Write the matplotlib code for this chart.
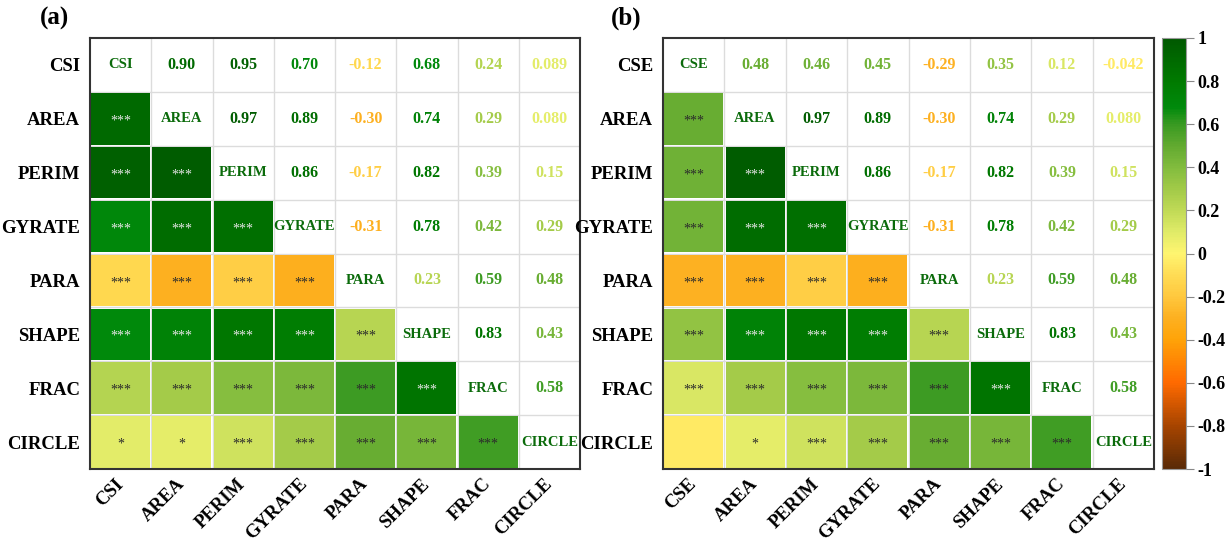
import numpy as np
import matplotlib
matplotlib.use("Agg")
import matplotlib.pyplot as plt
from matplotlib.colors import LinearSegmentedColormap, Normalize
from matplotlib.patches import Rectangle
from matplotlib.cm import ScalarMappable
from matplotlib.transforms import ScaledTranslation

plt.rcParams["font.family"] = ["Liberation Serif", "DejaVu Serif"]
plt.rcParams["font.weight"] = "bold"

# Variables of each panel
vars_a = ["CSI", "AREA", "PERIM", "GYRATE", "PARA", "SHAPE", "FRAC", "CIRCLE"]
vars_b = ["CSE", "AREA", "PERIM", "GYRATE", "PARA", "SHAPE", "FRAC", "CIRCLE"]

# Correlations of the first variable with the landscape metrics
first_row_a = [0.90, 0.95, 0.70, -0.12, 0.68, 0.24, 0.089]
first_row_b = [0.48, 0.46, 0.45, -0.29, 0.35, 0.12, -0.042]

# Correlations among the landscape metrics (upper triangle, row by row)
metric_rows = [
    [0.97, 0.89, -0.30, 0.74, 0.29, 0.080],
    [0.86, -0.17, 0.82, 0.39, 0.15],
    [-0.31, 0.78, 0.42, 0.29],
    [0.23, 0.59, 0.48],
    [0.83, 0.43],
    [0.58],
]

# Significance marks for the first variable
sig_first_a = ["***", "***", "***", "***", "***", "***", "*"]
sig_first_b = ["***", "***", "***", "***", "***", "***", ""]
# Significance marks among the landscape metrics
sig_metric_rows = [
    ["***", "***", "***", "***", "***", "*"],
    ["***", "***", "***", "***", "***"],
    ["***", "***", "***", "***"],
    ["***", "***", "***"],
    ["***", "***"],
    ["***"],
]

cbar_ticks = [1, 0.8, 0.6, 0.4, 0.2, 0, -0.2, -0.4, -0.6, -0.8, -1]

cmap = LinearSegmentedColormap.from_list(
    "brown_yellow_green",
    [
        (0.00, "#5a2a06"),
        (0.10, "#a84500"),
        (0.20, "#ff6a00"),
        (0.30, "#ffa308"),
        (0.35, "#fdb020"),
        (0.40, "#ffc83e"),
        (0.45, "#ffdc54"),
        (0.50, "#fff570"),
        (0.55, "#e0eb68"),
        (0.60, "#c0da56"),
        (0.65, "#a2ca48"),
        (0.70, "#82bc3e"),
        (0.75, "#62aa30"),
        (0.80, "#3a9a22"),
        (0.84, "#008a0c"),
        (0.90, "#007a00"),
        (0.95, "#006a00"),
        (1.00, "#005800"),
    ],
)
norm = Normalize(-1, 1)


def build(first_row, first_sig):
    n = len(first_row) + 1
    mat = np.eye(n)
    sig = [["" for _ in range(n)] for _ in range(n)]
    rows = [first_row] + metric_rows
    srows = [first_sig] + sig_metric_rows
    for i, (r, s) in enumerate(zip(rows, srows)):
        for k, (v, st) in enumerate(zip(r, s)):
            j = i + 1 + k
            mat[i, j] = mat[j, i] = v
            sig[i][j] = sig[j][i] = st
    return mat, sig


def fmt(v):
    return f"{v:.3f}" if abs(v) < 0.1 else f"{v:.2f}"


W, H = 1228, 543
fig = plt.figure(figsize=(W / 100, H / 100), dpi=100)


def draw_panel(ax, names, mat, sig):
    n = len(names)
    ax.set_xlim(0, n)
    ax.set_ylim(n, 0)
    for k in range(1, n):
        ax.axhline(k, color="#dcdcdc", lw=1, zorder=1)
        ax.axvline(k, color="#dcdcdc", lw=1, zorder=1)
    gx, gy = 1.2 / 61.3, 1.2 / 54
    for i in range(n):
        for j in range(n):
            v = mat[i, j]
            cx, cy = j + 0.5, i + 0.5
            if i == j:
                ax.text(cx, cy, names[i], ha="center", va="center",
                        color="#0b6b0b", fontsize=10.5, fontweight="bold", zorder=3)
            elif i < j:
                ax.text(cx, cy, fmt(v), ha="center", va="center",
                        color=cmap(norm(v)), fontsize=11.5, fontweight="bold", zorder=3)
            else:
                ax.add_patch(Rectangle((j + gx, i + gy), 1 - 2 * gx, 1 - 2 * gy,
                                       facecolor=cmap(norm(v)), edgecolor="none", zorder=2))
                if sig[i][j]:
                    tc = "#e6e6e6" if abs(v) > 0.65 else "#2b2b2b"
                    ax.text(cx, cy + 0.04, sig[i][j], ha="center", va="center",
                            color=tc, fontsize=10, fontweight="normal", zorder=3)
    ax.set_yticks(np.arange(n) + 0.5)
    ax.set_yticklabels(names, fontsize=13.5, fontweight="bold")
    ax.set_xticks(np.arange(n) + 0.5)
    ax.set_xticklabels(names, fontsize=13.5, fontweight="bold", rotation=45,
                       ha="right", va="center", rotation_mode="anchor")
    off = ScaledTranslation(24 / 100, 0, fig.dpi_scale_trans)
    for lab in ax.get_xticklabels():
        lab.set_transform(lab.get_transform() + off)
    ax.tick_params(axis="both", length=0)
    ax.tick_params(axis="y", pad=7)
    ax.tick_params(axis="x", pad=9)
    for sp in ax.spines.values():
        sp.set_color("#333333")
        sp.set_linewidth(1.5)
        sp.set_zorder(5)


bottom = (H - 469) / H
height = (469 - 38) / H
ax_a = fig.add_axes([90 / W, bottom, 490 / W, height])
ax_b = fig.add_axes([663 / W, bottom, 491 / W, height])

mat_a, sig_a = build(first_row_a, sig_first_a)
mat_b, sig_b = build(first_row_b, sig_first_b)
draw_panel(ax_a, vars_a, mat_a, sig_a)
draw_panel(ax_b, vars_b, mat_b, sig_b)

fig.text(40 / W, 1 - 7 / H, "(a)", fontsize=18, fontweight="bold", ha="left", va="top")
fig.text(611 / W, 1 - 7 / H, "(b)", fontsize=18, fontweight="bold", ha="left", va="top")

cax = fig.add_axes([1162 / W, bottom, 24 / W, height])
cb = fig.colorbar(ScalarMappable(norm=norm, cmap=cmap), cax=cax, ticks=cbar_ticks)
cb.ax.set_yticklabels([f"{t:g}" for t in cbar_ticks], fontsize=13, fontweight="bold")
cb.outline.set_edgecolor("#999999")
cb.outline.set_linewidth(0.8)
cb.ax.tick_params(length=6, width=0.8, color="#888888", pad=2)

fig.savefig("out.png", dpi=100)
